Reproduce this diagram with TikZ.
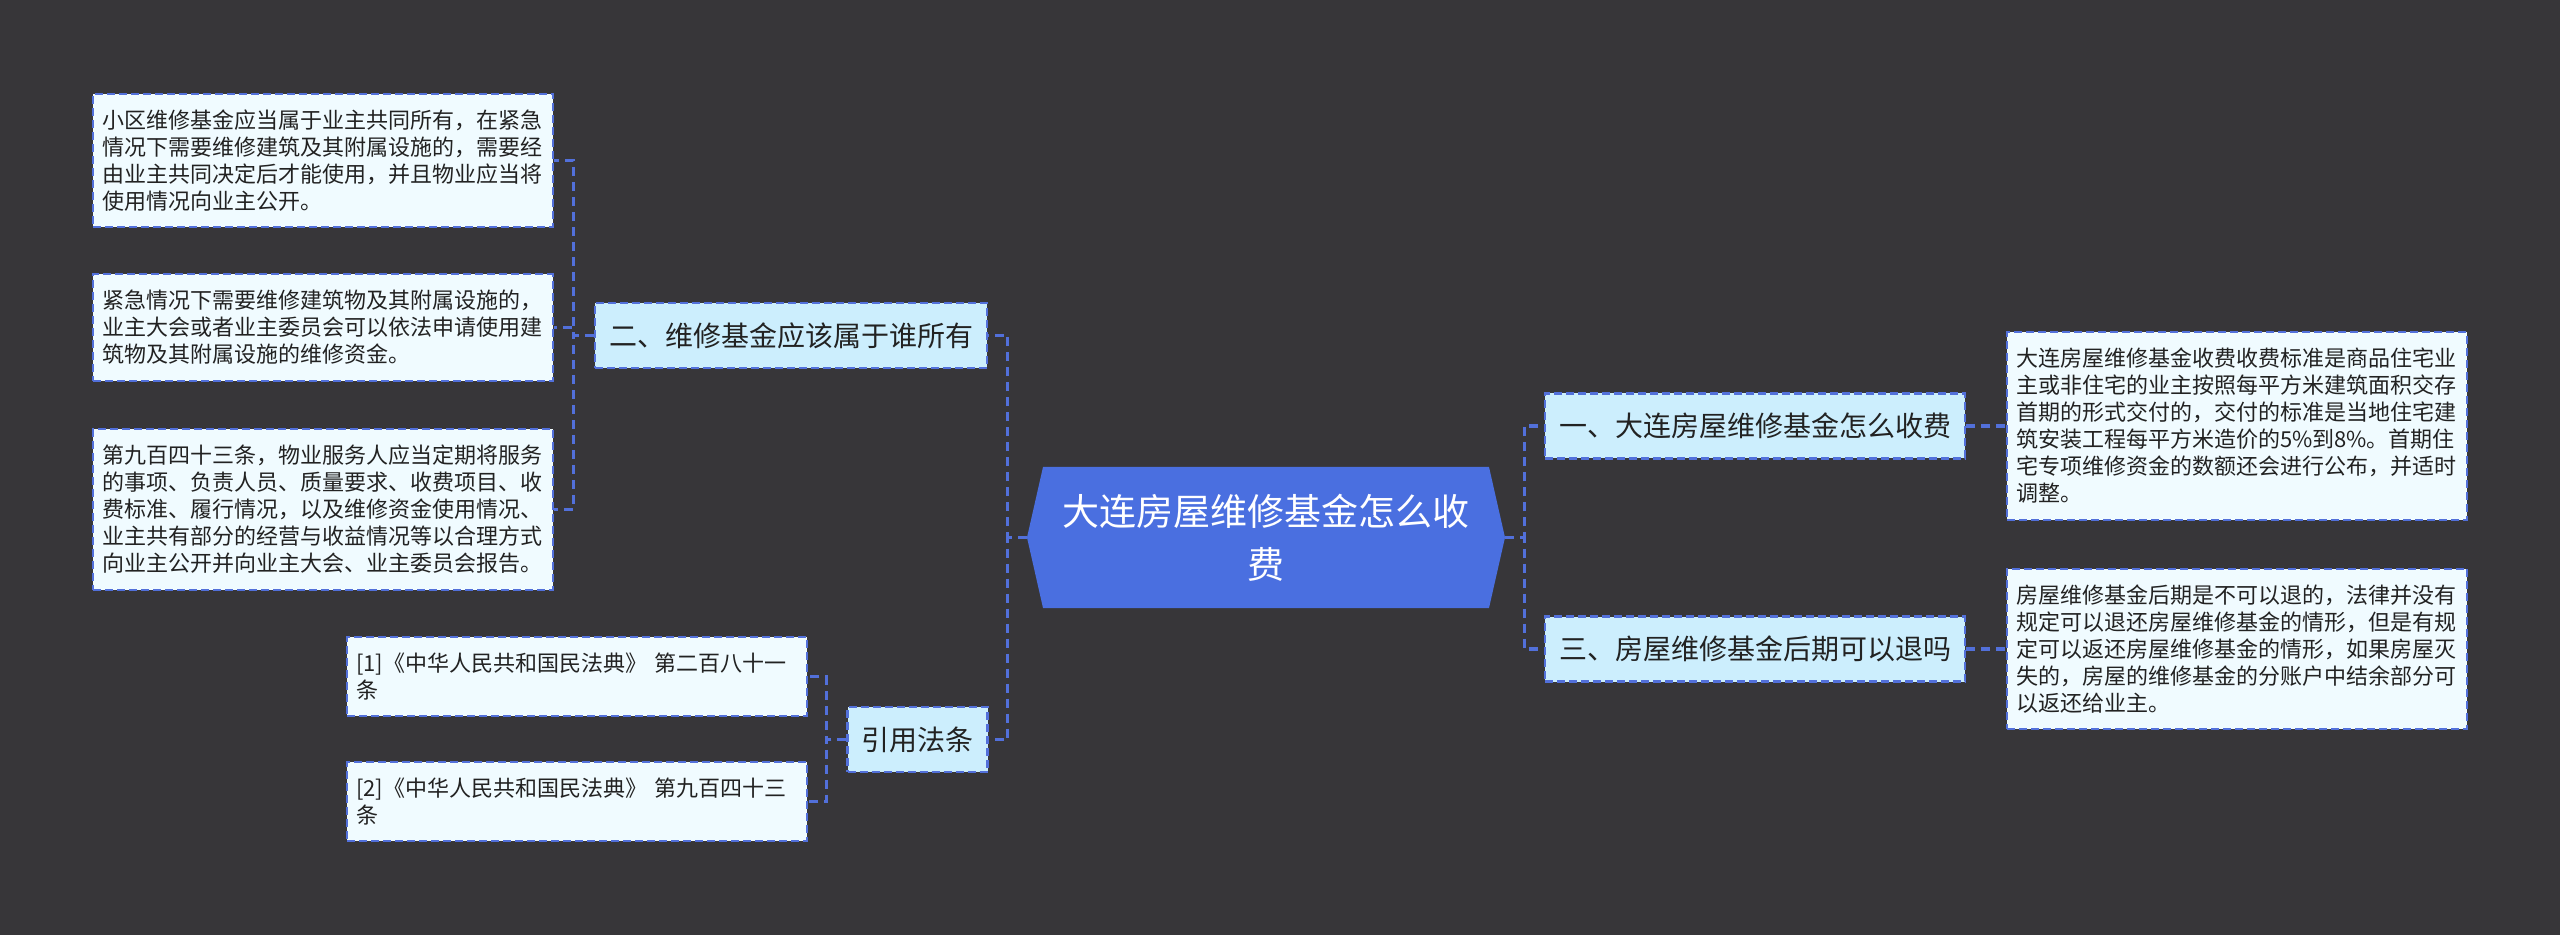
\documentclass[tikz,border=0pt]{standalone}
\usepackage{fontspec}
\usepackage{tikz}
\usetikzlibrary{calc}
\newfontfamily\cjk{Noto Sans CJK SC}

\begin{document}
\begin{tikzpicture}[
  x=0.5pt, y=-0.5pt,
  link/.style={mapline, line width=1.6pt, dash pattern=on 4.5pt off 3pt},
  box/.style={draw=mapline, line width=1.2pt, dash pattern=on 4pt off 2pt, text=inkdark},
  branch/.style={box, fill=branchfill, font=\cjk\fontsize{14}{17}\selectfont, inner xsep=7pt, minimum height=32.5pt},
  leaf/.style={box, fill=leaffill, font=\cjk\fontsize{11}{13.5}\selectfont, text width=221pt, align=left, inner xsep=4.5pt, inner ysep=8pt},
  root/.style={minimum width=239pt, minimum height=70.5pt, text width=215pt, align=center, text=white,
    font=\cjk\fontsize{18.5}{26.5}\selectfont,
    path picture={\fill[rootfill] (path picture bounding box.west)
      -- ([xshift=8pt]path picture bounding box.north west) -- ([xshift=-8pt]path picture bounding box.north east)
      -- (path picture bounding box.east)
      -- ([xshift=-8pt]path picture bounding box.south east) -- ([xshift=8pt]path picture bounding box.south west) -- cycle;}},
]
\definecolor{canvas}{RGB}{55,54,57}
\definecolor{rootfill}{RGB}{74,111,224}
\definecolor{branchfill}{RGB}{204,238,253}
\definecolor{leaffill}{RGB}{240,251,255}
\definecolor{mapline}{RGB}{82,112,218}
\definecolor{inkdark}{RGB}{34,34,34}
% dark page, units are pixels of the 2560 x 935 sheet
\fill[canvas] (0,0) rectangle (2560,935);
\useasboundingbox (0,0) rectangle (2560,935);
% centre topic
\node[root] (root) at (1266,537.5) {大连房屋维修基金怎么收\\费};
% right side: how it is charged, can it be refunded
\node[branch] (fee) at (1755,426) {一、大连房屋维修基金怎么收费};
\node[branch] (refund) at (1755,649) {三、房屋维修基金后期可以退吗};
\node[leaf] (feetext) at (2237,426) {大连房屋维修基金收费收费标准是商品住宅业\\主或非住宅的业主按照每平方米建筑面积交存\\首期的形式交付的，交付的标准是当地住宅建\\筑安装工程每平方米造价的5\%到8\%。首期住\\宅专项维修资金的数额还会进行公布，并适时\\调整。};
\node[leaf] (refundtext) at (2237,649) {房屋维修基金后期是不可以退的，法律并没有\\规定可以退还房屋维修基金的情形，但是有规\\定可以返还房屋维修基金的情形，如果房屋灭\\失的，房屋的维修基金的分账户中结余部分可\\以返还给业主。};
% left side: who owns the fund
\node[branch] (owner) at (791,335.5) {二、维修基金应该属于谁所有};
\node[leaf] (own1) at (323,160.5) {小区维修基金应当属于业主共同所有，在紧急\\情况下需要维修建筑及其附属设施的，需要经\\由业主共同决定后才能使用，并且物业应当将\\使用情况向业主公开。};
\node[leaf] (own2) at (323,327.5) {紧急情况下需要维修建筑物及其附属设施的，\\业主大会或者业主委员会可以依法申请使用建\\筑物及其附属设施的维修资金。};
\node[leaf] (own3) at (323,509.5) {第九百四十三条，物业服务人应当定期将服务\\的事项、负责人员、质量要求、收费项目、收\\费标准、履行情况，以及维修资金使用情况、\\业主共有部分的经营与收益情况等以合理方式\\向业主公开并向业主大会、业主委员会报告。};
% cited articles
\node[branch] (law) at (917.5,739.5) {引用法条};
\node[leaf] (law1) at (577,676.5) {[1]《中华人民共和国民法典》 第二百八十一\\条};
\node[leaf] (law2) at (577,801.5) {[2]《中华人民共和国民法典》 第九百四十三\\条};
% elbow links, the bus sits half way between parent and child
\draw[link] (root.east) -- ++(19,0) |- (fee.west);
\draw[link] (root.east) -- ++(19,0) |- (refund.west);
\draw[link] (fee.east) -- (feetext.west);
\draw[link] (refund.east) -- (refundtext.west);
\draw[link] (root.west) -- ++(-19,0) |- (owner.east);
\draw[link] (root.west) -- ++(-19,0) |- (law.east);
\foreach \n in {own1,own2,own3}
  \draw[link] (owner.west) -- ++(-20.5,0) |- (\n.east);
\foreach \n in {law1,law2}
  \draw[link] (law.west) -- ++(-20,0) |- (\n.east);
\end{tikzpicture}
\end{document}
